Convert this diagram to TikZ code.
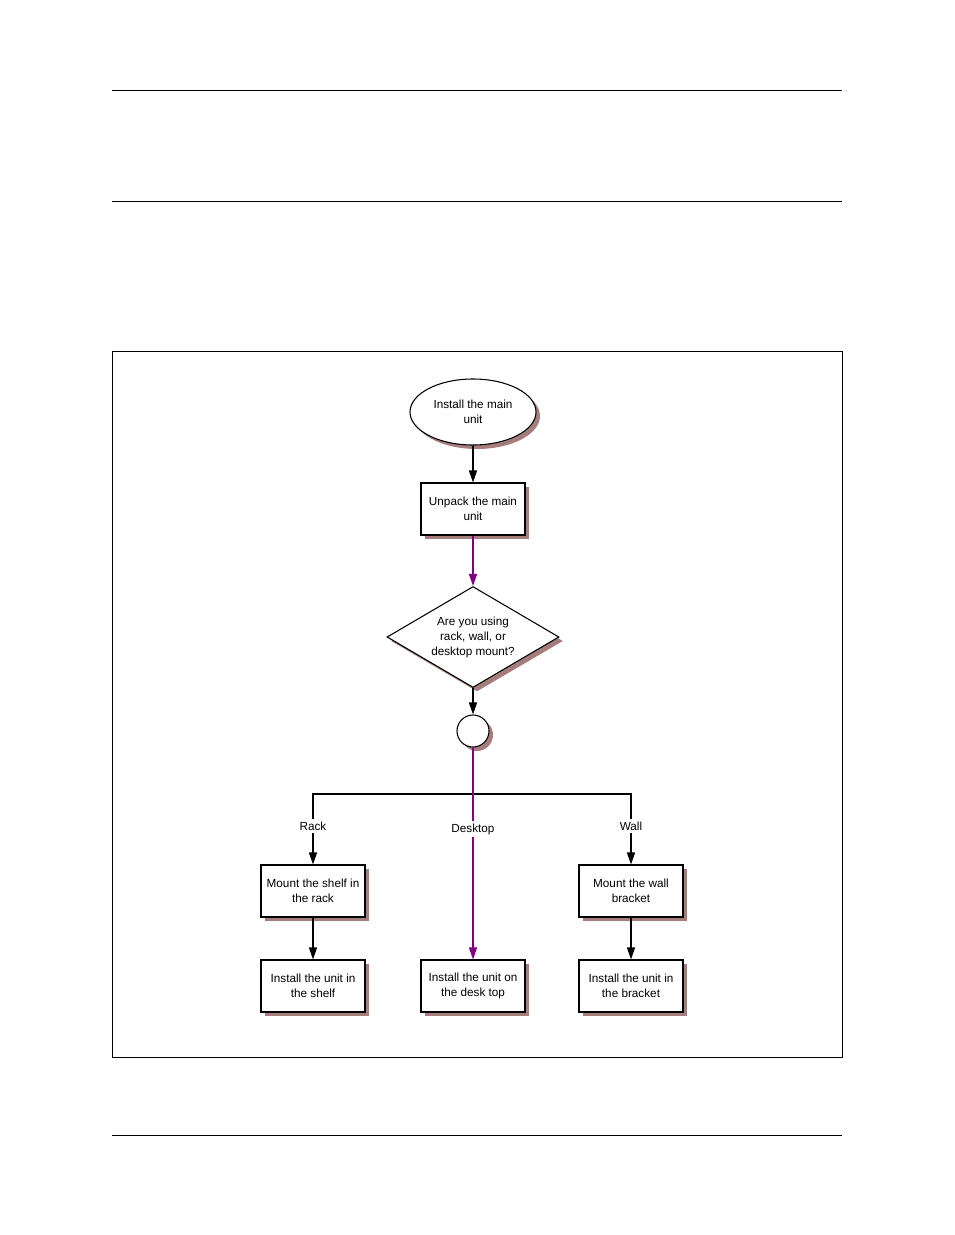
\documentclass[tikz,border=0pt]{standalone}
\usepackage{fontspec}
\setmainfont{Liberation Sans}
\usepackage{xcolor}
\usepackage{tikz}
\usetikzlibrary{arrows.meta, positioning, shapes.geometric, shadows}
\definecolor{shadowred}{RGB}{165,125,125}
\definecolor{flowpurple}{RGB}{128,0,128}

\begin{document}
\begin{tikzpicture}[x=0.75pt,y=-0.75pt,
    txt/.style={font=\fontsize{8.8}{11.25}\selectfont, align=center},
    shad/.style={drop shadow={shadow xshift=3pt, shadow yshift=-3pt,
                 fill=shadowred, opacity=1}},
    fbox/.style={txt, draw, line width=0.8pt, fill=white, shad, inner sep=0pt,
                 minimum width=78pt, minimum height=39pt},
    sbox/.style={txt, draw, line width=0.8pt, fill=white, shad, ellipse,
                 inner sep=0pt, minimum width=94.5pt, minimum height=49.5pt},
    dbox/.style={txt, draw, line width=0.8pt, fill=white, shad, diamond,
                 aspect=1.7, inner sep=0pt, minimum width=129pt, minimum height=75.75pt},
    cbox/.style={draw, line width=0.8pt, fill=white, shad, circle,
                 inner sep=0pt, minimum size=24pt},
    lbl/.style={txt, fill=white, inner sep=1.5pt},
    myarr/.style={-{Triangle[length=9pt,width=6pt]}, line width=0.9pt},
    plain/.style={line width=0.9pt},
]
\useasboundingbox (0,0) rectangle (954,1235);
%% -- Page rules and frame --
\draw[line width=0.6pt] (112,90) -- (842,90);
\draw[line width=0.6pt] (112,201) -- (842,201);
\draw[line width=0.6pt] (112,1135) -- (842,1135);
\draw[line width=0.6pt] (112,351) rectangle (842,1057);
%% -- Main chain --
\node[sbox](start)at(473,412){Install the main\\unit};
\node[fbox](unpack)at(473,509){Unpack the main\\unit};
\node[dbox](ask)at(473,637){Are you using\\rack, wall, or\\desktop mount?};
\node[cbox](join)at(473,731){};
%% -- Branch labels --
\coordinate(brl)at(313,794);
\coordinate(brr)at(631,794);
\node[lbl](rack)at(313,826){Rack};
\node[lbl](desk)at(473,829){Desktop};
\node[lbl](wall)at(631,826){Wall};
%% -- Step boxes --
\node[fbox](shelf)at(313,891){Mount the shelf in\\the rack};
\node[fbox](bracket)at(631,891){Mount the wall\\bracket};
\node[fbox](instshelf)at(313,986){Install the unit in\\the shelf};
\node[fbox](instdesk)at(473,986){Install the unit on\\the desk top};
\node[fbox](instbracket)at(631,986){Install the unit in\\the bracket};
%% -- Connectors --
\draw[myarr](start)--(unpack);
\draw[myarr,flowpurple](unpack)--(ask);
\draw[myarr](ask)--(join);
\draw[plain](rack.north)--(brl)--(brr)--(wall.north);
\draw[plain,flowpurple](join)--(desk);
\draw[myarr,flowpurple](desk)--(instdesk);
\draw[myarr](rack)--(shelf);
\draw[myarr](wall)--(bracket);
\draw[myarr](shelf)--(instshelf);
\draw[myarr](bracket)--(instbracket);
\end{tikzpicture}
\end{document}
